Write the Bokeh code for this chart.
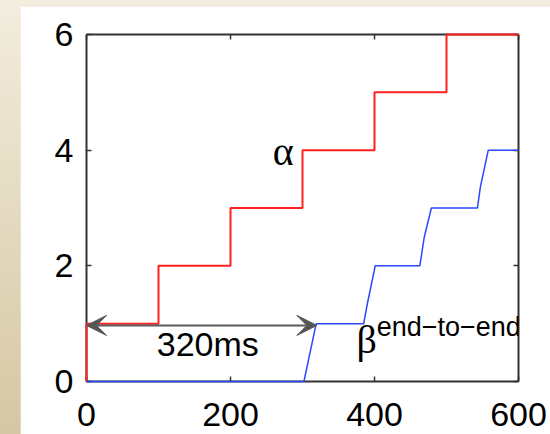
from bokeh.plotting import figure
from bokeh.models import Range1d, LinearAxis, FixedTicker, Arrow, VeeHead, Label
from bokeh.embed import file_html
from bokeh.resources import INLINE

# ---- data ----
alpha_x = [0, 0, 100, 100, 200, 200, 300, 300, 400, 400, 500, 500, 600]
alpha_y = [0, 1, 1, 2, 2, 3, 3, 4, 4, 5, 5, 6, 6]

beta_x = [0, 302, 319, 385, 390, 401, 463, 469, 479, 543, 547, 558, 600]
beta_y = [0, 0, 1, 1, 1.34, 2, 2, 2.49, 3, 3, 3.36, 4, 4]

x_ticks = [0, 200, 400, 600]
y_ticks = [0, 2, 4, 6]

latency_start = 0
latency_end = 320
latency_level = 0.97
latency_text = "320ms"

FRAME = "#333333"
TICK_FONT = "Liberation Sans"

p = figure(width=530, height=437,
           x_range=Range1d(0, 600), y_range=Range1d(0, 6),
           output_backend="svg", toolbar_location=None,
           x_axis_location=None, y_axis_location=None,
           min_border_left=66, min_border_right=32,
           min_border_top=28, min_border_bottom=62,
           background_fill_color="white", border_fill_color="white",
           outline_line_color=None)
p.xgrid.visible = False
p.ygrid.visible = False


def make_axis(ticks, labels):
    ax = LinearAxis(ticker=FixedTicker(ticks=ticks))
    ax.axis_line_color = FRAME
    ax.axis_line_width = 2
    ax.major_tick_line_color = FRAME
    ax.major_tick_line_width = 1.5
    ax.major_tick_in = 5
    ax.major_tick_out = 0
    ax.minor_tick_line_color = None
    if labels:
        ax.major_label_text_font = TICK_FONT
        ax.major_label_text_font_size = "34px"
        ax.major_label_text_color = "black"
    else:
        ax.major_label_overrides = {t: "" for t in ticks}
        ax.major_label_text_font_size = "0px"
        ax.major_label_standoff = 0
    return ax


bottom = make_axis(x_ticks, True)
bottom.major_label_standoff = 21
left = make_axis(y_ticks, True)
left.major_label_standoff = 13
p.add_layout(bottom, "below")
p.add_layout(left, "left")
p.add_layout(make_axis(x_ticks, False), "above")
p.add_layout(make_axis(y_ticks, False), "right")

p.line(alpha_x, alpha_y, line_color="#ff2020", line_width=2, level="annotation")
p.line(beta_x, beta_y, line_color="#2a48ff", line_width=1.5, level="annotation")

p.add_layout(Arrow(x_start=latency_start, y_start=latency_level,
                   x_end=latency_end, y_end=latency_level,
                   line_color="#5a5a5a", line_width=2,
                   start=VeeHead(size=20, fill_color="#555555", line_color="#555555", line_width=1),
                   end=VeeHead(size=20, fill_color="#555555", line_color="#555555", line_width=1)))

p.add_layout(Label(x=168.5, y=0.64, text=latency_text, text_align="center",
                   text_baseline="alphabetic", text_font="Liberation Sans",
                   text_font_size="34px", text_color="black"))
p.add_layout(Label(x=258.6, y=3.98, text="α", text_align="left",
                   text_baseline="alphabetic", text_font="Liberation Serif",
                   text_font_size="40px", text_color="black"))
p.add_layout(Label(x=375, y=0.73, text="β", text_align="left",
                   text_baseline="alphabetic", text_font="Liberation Serif",
                   text_font_size="40px", text_color="black"))
p.add_layout(Label(x=403, y=0.95, text="end−to−end", text_align="left",
                   text_baseline="alphabetic", text_font="Liberation Sans",
                   text_font_size="27px", text_color="black"))

TEMPLATE = """
{% block postamble %}
<style>
html { margin: 0 !important; padding: 0 !important;
       background: linear-gradient(to bottom, #f3eddf, #d5c7a2); }
body { margin: 0 !important; padding: 6px 0 0 20px !important;
       box-sizing: border-box; overflow: hidden;
       background: linear-gradient(to bottom, #f3eddf, #d5c7a2); }
</style>
{% endblock %}
"""

open("out.html", "w").write(file_html(p, INLINE, template=TEMPLATE))
